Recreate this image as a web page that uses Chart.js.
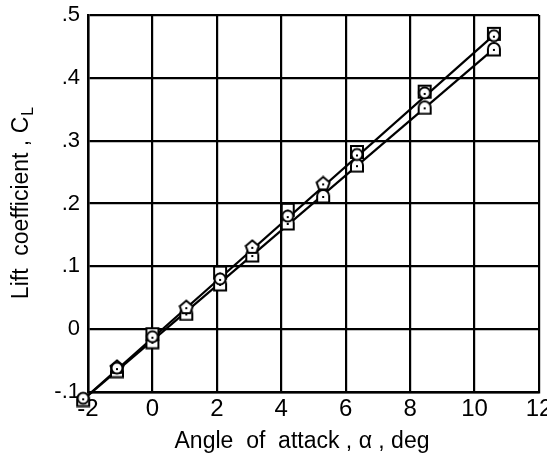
<!DOCTYPE html>
<html>
<head>
<meta charset="utf-8">
<script src="https://cdn.jsdelivr.net/npm/chart.js@4.4.1/dist/chart.umd.min.js"></script>
<style>
  html, body { margin: 0; padding: 0; background: #fff; }
  #wrap { width: 547px; height: 456px; }
</style>
</head>
<body>
<div id="wrap"><canvas id="liftChart" width="547" height="456"></canvas></div>
<script>
// Values
const squareAlpha = [0, 2.1, 4.2, 6.35, 8.45, 10.6];
const squareCL = [-0.008, 0.09, 0.19, 0.282, 0.378, 0.47];

const circleAlpha = [-2.15, -1.1, 0, 2.1, 4.2, 6.35, 8.45, 10.6];
const circleCL = [-0.11, -0.062, -0.012, 0.08, 0.18, 0.278, 0.376, 0.467];

const diamondAlpha = [-1.1, 1.05, 3.1, 5.3];
const diamondCL = [-0.06, 0.035, 0.131, 0.232];

const domeAlpha = [-2.15, -1.1, 0, 1.05, 2.1, 3.1, 4.2, 5.3, 6.35, 8.45, 10.6];
const domeCL = [-0.112, -0.066, -0.02, 0.025, 0.072, 0.118, 0.169, 0.212, 0.261, 0.353, 0.446];

const upperFairAlpha = [-2.15, 10.6];
const upperFairCL = [-0.112, 0.468];
const lowerFairAlpha = [-2.15, 10.6];
const lowerFairCL = [-0.112, 0.446];

const xTickLabels = ['-2', '0', '2', '4', '6', '8', '10', '12'];
const yTickLabels = ['-.1', '0', '.1', '.2', '.3', '.4', '.5'];

const xTitle = 'Angle  of  attack , \u03b1 , deg';
const yTitle = 'Lift  coefficient , C';
const yTitleSub = 'L';

const FONT = '"Liberation Sans", Arial, sans-serif';

function toPoints(xs, ys) {
    return xs.map((x, i) => ({ x: x, y: ys[i] }));
}

// small open marker drawn on its own canvas, used as pointStyle
function makeMarker(shape) {
    const c = document.createElement('canvas');
    c.width = 16;
    c.height = 16;
    const g = c.getContext('2d');
    g.lineWidth = 2;
    g.strokeStyle = '#000';
    g.fillStyle = '#fff';
    g.beginPath();
    if (shape === 'square') {
        g.rect(2, 2, 12, 12);
    } else if (shape === 'circle') {
        g.arc(8, 8, 5.5, 0, Math.PI * 2);
    } else if (shape === 'diamond') {
        g.moveTo(8, 1.5);
        g.lineTo(14.5, 7);
        g.lineTo(12, 14);
        g.lineTo(4, 14);
        g.lineTo(1.5, 7);
        g.closePath();
    } else {
        // dome: flat bottom, round top
        g.moveTo(2, 14.5);
        g.lineTo(2, 8);
        g.arc(8, 8, 6, Math.PI, 0);
        g.lineTo(14, 14.5);
        g.closePath();
    }
    g.fill();
    g.stroke();
    g.fillStyle = '#000';
    g.fillRect(7, 8, 2, 2);
    return c;
}

const axisTitles = {
    id: 'axisTitles',
    afterDraw(chart) {
        const { ctx, chartArea } = chart;
        ctx.save();
        ctx.fillStyle = '#000';
        ctx.textBaseline = 'alphabetic';

        ctx.font = '23px ' + FONT;
        ctx.textAlign = 'center';
        ctx.fillText(xTitle, 302, 448);

        ctx.translate(28, (chartArea.top + chartArea.bottom) / 2);
        ctx.rotate(-Math.PI / 2);
        const w1 = ctx.measureText(yTitle).width;
        ctx.font = '16px ' + FONT;
        const w2 = ctx.measureText(yTitleSub).width;
        const start = -(w1 + w2) / 2;
        ctx.textAlign = 'left';
        ctx.font = '23px ' + FONT;
        ctx.fillText(yTitle, start, 0);
        ctx.font = '16px ' + FONT;
        ctx.fillText(yTitleSub, start + w1 + 1, 5);
        ctx.restore();
    }
};

const markerSet = (label, xs, ys, shape) => ({
    type: 'scatter',
    label: label,
    data: toPoints(xs, ys),
    pointStyle: makeMarker(shape),
    pointRadius: 7,
    showLine: false,
    clip: false
});

const fairing = (label, xs, ys) => ({
    type: 'line',
    label: label,
    data: toPoints(xs, ys),
    borderColor: '#000',
    borderWidth: 2.2,
    pointRadius: 0,
    fill: false,
    clip: false
});

new Chart(document.getElementById('liftChart'), {
    type: 'scatter',
    data: {
        datasets: [
            markerSet('circle', circleAlpha, circleCL, 'circle'),
            markerSet('diamond', diamondAlpha, diamondCL, 'diamond'),
            markerSet('square', squareAlpha, squareCL, 'square'),
            markerSet('dome', domeAlpha, domeCL, 'dome'),
            fairing('upper', upperFairAlpha, upperFairCL),
            fairing('lower', lowerFairAlpha, lowerFairCL)
        ]
    },
    options: {
        responsive: false,
        animation: false,
        layout: { padding: { top: 15, right: 1, left: 0, bottom: 0 } },
        plugins: {
            legend: { display: false },
            tooltip: { enabled: false }
        },
        scales: {
            x: {
                type: 'linear',
                min: -2,
                max: 12,
                ticks: {
                    stepSize: 2,
                    color: '#000',
                    padding: 3,
                    maxRotation: 0,
                    font: { family: FONT, size: 24 },
                    callback: (v, i) => xTickLabels[i]
                },
                grid: { color: '#000', lineWidth: 2.2, drawTicks: false },
                border: { color: '#000', width: 2.5 },
                afterFit(scale) {
                    scale.height = 64;
                    scale.paddingLeft = 0;
                    scale.paddingRight = 0;
                }
            },
            y: {
                type: 'linear',
                min: -0.1,
                max: 0.5,
                ticks: {
                    stepSize: 0.1,
                    color: '#000',
                    padding: 8,
                    font: { family: FONT, size: 22 },
                    callback: (v, i) => yTickLabels[i]
                },
                grid: { color: '#000', lineWidth: 2.2, drawTicks: false },
                border: { color: '#000', width: 2.5 },
                afterFit(scale) {
                    scale.width = 88;
                    scale.paddingTop = 0;
                    scale.paddingBottom = 0;
                }
            }
        }
    },
    plugins: [axisTitles]
});
</script>
</body>
</html>
